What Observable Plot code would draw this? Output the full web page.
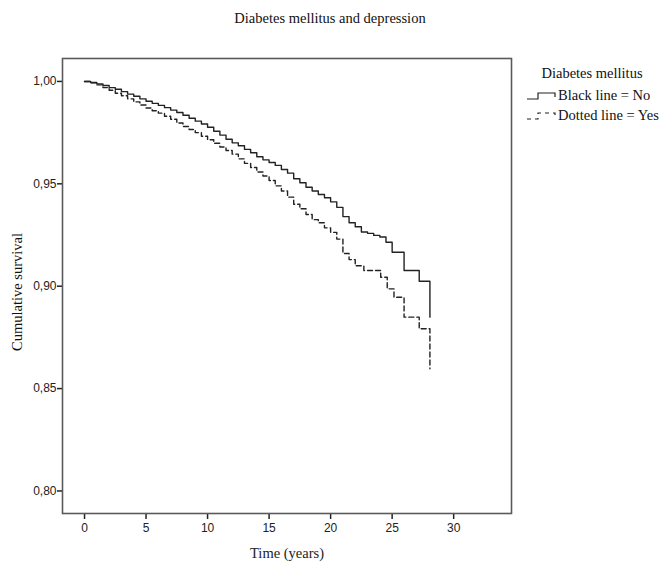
<!DOCTYPE html>
<html>
<head>
<meta charset="utf-8">
<script src="https://cdn.jsdelivr.net/npm/d3@7"></script>
<script src="https://cdn.jsdelivr.net/npm/@observablehq/plot@0.6"></script>
<style>
  html, body { margin: 0; padding: 0; background: #fff; }
  #wrap { position: relative; width: 660px; height: 565px; }
  .serif { font-family: "Liberation Serif", "Times New Roman", serif; font-size: 14.5px; color: #111; position: absolute; white-space: nowrap; }
  #title { left: 0; width: 660px; top: 10px; text-align: center; }
  #legTitle { left: 527px; width: 130px; top: 65px; text-align: center; }
  .legRow { left: 527px; display: flex; align-items: center; }
  .legRow svg { margin-right: 1px; }
</style>
</head>
<body>
<div id="wrap">
  <div id="chart"></div>
  <div id="title" class="serif">Diabetes mellitus and depression</div>
  <div id="legTitle" class="serif">Diabetes mellitus</div>
  <div class="serif legRow" style="top:87px"><svg width="30" height="10"><polyline points="0,8 11,8 11,2 28,2 28,6" fill="none" stroke="#222" stroke-width="1.2"/></svg>Black line = No</div>
  <div class="serif legRow" style="top:107px"><svg width="30" height="10"><polyline points="0,8 11,8 11,2 28,2 28,7" fill="none" stroke="#222" stroke-width="1.2" stroke-dasharray="4,4"/></svg>Dotted line = Yes</div>
</div>
<script>
// Diabetes mellitus = No (solid line)
const timeNo = [0,0.5,1,1.5,2,2.5,3,3.5,4,4.5,5,5.5,6,6.5,7,7.5,8,8.5,9,9.5,10,10.5,11,11.5,12,12.5,13,13.5,14,14.5,15,15.5,16,16.5,17,17.5,18,18.5,19,19.5,20,20.5,21,21.5,22,22.5,23,23.5,24,24.5,25,25.97,27.2,28.07];
const survNo = [1.0000,0.9995,0.9988,0.9980,0.9970,0.9962,0.9950,0.9938,0.9928,0.9915,0.9903,0.9893,0.9883,0.9872,0.9860,0.9848,0.9835,0.9820,0.9806,0.9792,0.9776,0.9757,0.9738,0.9718,0.9700,0.9686,0.9668,0.9652,0.9632,0.9617,0.9604,0.9590,0.9570,0.9552,0.9525,0.9505,0.9483,0.9465,0.9448,0.9432,0.9412,0.9385,0.9340,0.9310,0.9290,0.9265,0.9258,0.9248,0.9240,0.9215,0.9166,0.9077,0.9024,0.8849];
// Diabetes mellitus = Yes (dashed line)
const timeYes = [0,0.5,1,1.5,2,2.5,3,3.5,4,4.5,5,5.5,6,6.5,7,7.5,8,8.5,9,9.5,10,10.5,11,11.5,12,12.5,13,13.5,14,14.5,15,15.5,16,16.5,17,17.5,18,18.5,19,19.5,20,20.5,21,21.5,22,22.7,24.07,24.6,25.15,25.97,27.2,28.07];
const survYes = [1.0000,0.9993,0.9983,0.9970,0.9957,0.9942,0.9930,0.9915,0.9900,0.9885,0.9870,0.9857,0.9845,0.9830,0.9815,0.9797,0.9780,0.9765,0.9750,0.9732,0.9715,0.9698,0.9680,0.9663,0.9645,0.9622,0.9600,0.9580,0.9558,0.9538,0.9516,0.9490,0.9465,0.9435,0.9400,0.9378,0.9350,0.9325,0.9310,0.9285,0.9263,0.9230,0.9160,0.9130,0.9100,0.9077,0.9044,0.8987,0.8946,0.8849,0.8792,0.8597];

const xTicks = [0,5,10,15,20,25,30];
const yTicks = [0.80,0.85,0.90,0.95,1.00];

const dataNo = timeNo.map((t, i) => ({t, s: survNo[i]}));
const dataYes = timeYes.map((t, i) => ({t, s: survYes[i]}));

const plot = Plot.plot({
  width: 660,
  height: 565,
  marginLeft: 62,
  marginRight: 149,
  marginTop: 58,
  marginBottom: 52,
  style: { fontFamily: "'Liberation Sans', Arial, sans-serif", fontSize: "12px", color: "#222", background: "white" },
  x: { domain: [-1.79, 34.7], ticks: xTicks, label: null },
  y: { domain: [0.789, 1.0112], ticks: yTicks, label: null },
  marks: [
    Plot.axisX({ticks: xTicks, tickSize: 6, tickPadding: 4, stroke: "#222", strokeWidth: 1.5, fontSize: 12, label: null}),
    Plot.axisY({ticks: yTicks, tickSize: 5, tickPadding: 1, stroke: "#222", strokeWidth: 1.5, fontSize: 12, label: null,
      tickFormat: d => d.toFixed(2).replace(".", ",")}),
    Plot.line(dataYes, {x: "t", y: "s", curve: "step-after", stroke: "#222", strokeWidth: 1.4, strokeDasharray: "5,3"}),
    Plot.line(dataNo, {x: "t", y: "s", curve: "step-after", stroke: "#222", strokeWidth: 1.4}),
    Plot.frame({stroke: "#5a5a5a", strokeWidth: 1.6}),
    Plot.axisX({ticks: [], label: "Time (years)", labelAnchor: "center", labelArrow: "none", labelOffset: 44,
      fontFamily: "'Liberation Serif', 'Times New Roman', serif", fontSize: 14.5}),
  ]
});
document.getElementById("chart").appendChild(plot);

// rotated y label as part of the svg
const svg = d3.select(plot);
svg.append("text")
  .attr("transform", "translate(19,292) rotate(-90)")
  .attr("text-anchor", "middle")
  .attr("dominant-baseline", "middle")
  .style("font-family", "'Liberation Serif', 'Times New Roman', serif")
  .style("font-size", "14.5px")
  .attr("fill", "#111")
  .text("Cumulative survival");
</script>
</body>
</html>
